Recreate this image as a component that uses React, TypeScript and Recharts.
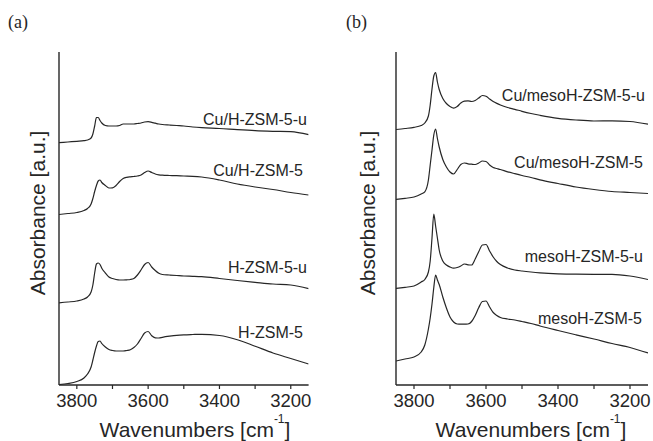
import { LineChart, Line, XAxis, YAxis } from 'recharts';

// wavenumber grid shared by all spectra (cm-1), high to low
const wavenumbers = [
    3850, 3825, 3800, 3780, 3770, 3760, 3755, 3750, 3745, 3740, 3735, 3730, 3720, 3710,
    3700, 3690, 3680, 3670, 3660, 3650, 3640, 3630, 3620, 3610, 3600, 3590, 3580, 3570,
    3560, 3540, 3520, 3500, 3475, 3450, 3400, 3350, 3300, 3250, 3200, 3150,
];

// panel (a), offset absorbance [a.u.]
const cuHZsm5U = [
    2.423, 2.43, 2.437, 2.443, 2.45, 2.47, 2.51, 2.59, 2.675, 2.675, 2.645, 2.62, 2.595, 2.59,
    2.59, 2.59, 2.595, 2.61, 2.61, 2.61, 2.61, 2.615, 2.62, 2.63, 2.633, 2.627, 2.618, 2.61,
    2.605, 2.6, 2.595, 2.59, 2.58, 2.573, 2.565, 2.553, 2.543, 2.537, 2.533, 2.503,
];
const cuHZsm5 = [
    1.705, 1.715, 1.725, 1.745, 1.765, 1.81, 1.865, 1.935, 1.995, 2.04, 2.05, 2.025, 1.995, 1.97,
    1.972, 1.995, 2.035, 2.065, 2.077, 2.082, 2.085, 2.09, 2.1, 2.125, 2.14, 2.125, 2.11, 2.102,
    2.098, 2.095, 2.093, 2.09, 2.087, 2.08, 2.05, 2.01, 1.98, 1.955, 1.925, 1.9,
];
const hZsm5U = [
    0.822, 0.83, 0.84, 0.86, 0.88, 0.93, 1.0, 1.12, 1.21, 1.22, 1.205, 1.167, 1.12, 1.08,
    1.065, 1.055, 1.05, 1.05, 1.052, 1.055, 1.065, 1.1, 1.15, 1.205, 1.225, 1.18, 1.145, 1.117,
    1.105, 1.1, 1.095, 1.09, 1.087, 1.083, 1.065, 1.045, 1.027, 1.01, 1.0, 0.963,
];
const hZsm5 = [
    0.005, 0.015, 0.035, 0.07, 0.11, 0.18, 0.25, 0.325, 0.39, 0.435, 0.44, 0.415, 0.38, 0.355,
    0.345, 0.34, 0.34, 0.34, 0.345, 0.353, 0.375, 0.41, 0.465, 0.52, 0.535, 0.492, 0.472, 0.47,
    0.477, 0.488, 0.497, 0.502, 0.505, 0.507, 0.495, 0.453, 0.388, 0.32, 0.265, 0.21,
];

// panel (b)
const cuMesoU = [
    2.555, 2.565, 2.577, 2.595, 2.62, 2.69, 2.8, 2.96, 3.09, 3.125, 3.03, 2.955, 2.865, 2.815,
    2.785, 2.768, 2.785, 2.82, 2.838, 2.842, 2.835, 2.845, 2.87, 2.895, 2.888, 2.86, 2.835, 2.816,
    2.8, 2.775, 2.757, 2.737, 2.715, 2.697, 2.667, 2.65, 2.64, 2.642, 2.635, 2.608,
];
const cuMeso = [
    1.855, 1.867, 1.88, 1.91, 1.932, 2.05, 2.2, 2.35, 2.5, 2.56, 2.465, 2.38, 2.255, 2.18,
    2.13, 2.11, 2.155, 2.205, 2.22, 2.212, 2.208, 2.205, 2.22, 2.24, 2.235, 2.2, 2.175, 2.165,
    2.155, 2.132, 2.113, 2.095, 2.075, 2.052, 2.015, 1.98, 1.955, 1.935, 1.925, 1.915,
];
const mesoU = [
    0.965, 0.977, 0.99, 1.03, 1.055, 1.13, 1.24, 1.47, 1.71, 1.59, 1.47, 1.35, 1.24, 1.2,
    1.18, 1.168, 1.175, 1.19, 1.21, 1.202, 1.2, 1.26, 1.335, 1.4, 1.405, 1.34, 1.28, 1.235,
    1.205, 1.17, 1.15, 1.14, 1.13, 1.122, 1.112, 1.108, 1.107, 1.107, 1.09, 1.055,
];
const meso = [
    0.24, 0.26, 0.28, 0.33, 0.4, 0.56, 0.67, 0.81, 0.975, 1.1, 1.05, 1.005, 0.88, 0.77,
    0.68, 0.63, 0.61, 0.608, 0.608, 0.61, 0.635, 0.695, 0.775, 0.835, 0.84, 0.78, 0.725, 0.695,
    0.675, 0.66, 0.65, 0.635, 0.615, 0.59, 0.545, 0.502, 0.46, 0.415, 0.375, 0.32,
];

const xTicks = [3800, 3700, 3600, 3500, 3400, 3300, 3200];
const namesA = ['Cu/H-ZSM-5-u', 'Cu/H-ZSM-5', 'H-ZSM-5-u', 'H-ZSM-5'];
const namesB = ['Cu/mesoH-ZSM-5-u', 'Cu/mesoH-ZSM-5', 'mesoH-ZSM-5-u', 'mesoH-ZSM-5'];

const INK = '#262626';
const SANS = '"Liberation Sans", Arial, Helvetica, sans-serif';

const build = (series: number[][]) =>
    wavenumbers.map((wn, i) => {
        const row: Record<string, number> = { wn };
        series.forEach((s, k) => { row[`s${k}`] = s[i]; });
        return row;
    });

const dataA = build([cuHZsm5U, cuHZsm5, hZsm5U, hZsm5]);
const dataB = build([cuMesoU, cuMeso, mesoU, meso]);

function Panel({ data, left, width, margin }: { data: Record<string, number>[]; left: number; width: number; margin: { left: number; right: number } }) {
    return (
        <div style={{ position: 'absolute', left, top: 0 }}>
            <LineChart width={width} height={441} data={data}
                margin={{ top: 52, right: margin.right, left: margin.left, bottom: 0 }}>
                <XAxis dataKey="wn" type="number" domain={[3150, 3850]} reversed allowDataOverflow
                    ticks={xTicks} tickFormatter={(v: number) => (v % 200 === 0 ? String(v) : '')}
                    height={56} tickSize={4} tickMargin={5}
                    axisLine={{ stroke: INK, strokeWidth: 1.4 }} tickLine={{ stroke: INK, strokeWidth: 1.2 }}
                    tick={{ fill: INK, fontSize: 18.5, fontFamily: SANS }} />
                <YAxis type="number" domain={[0, 3.33]} width={1} tick={false} tickLine={false}
                    axisLine={{ stroke: INK, strokeWidth: 1.4 }} allowDataOverflow />
                {[0, 1, 2, 3].map((k) => (
                    <Line key={k} dataKey={`s${k}`} type="monotone" dot={false} stroke={INK}
                        strokeWidth={1.2} isAnimationActive={false} />
                ))}
            </LineChart>
        </div>
    );
}

export default function App() {
    const labelStyle = { fontFamily: SANS, fontSize: 16, fill: INK };
    const titleStyle = { fontFamily: SANS, fontSize: 21, fill: INK };
    return (
        <div style={{ position: 'absolute', left: 0, top: 0, width: 653, height: 441, background: '#fff' }}>
            <Panel data={dataA} left={0} width={330} margin={{ left: 58, right: 21.4 }} />
            <Panel data={dataB} left={330} width={323} margin={{ left: 65, right: 5 }} />
            <svg width={653} height={441} style={{ position: 'absolute', left: 0, top: 0, pointerEvents: 'none' }}>
                <text x={8} y={28} style={{ fontFamily: '"Liberation Serif", "Times New Roman", serif', fontSize: 18, fill: INK }}>(a)</text>
                <text x={346} y={28} style={{ fontFamily: '"Liberation Serif", "Times New Roman", serif', fontSize: 18, fill: INK }}>(b)</text>

                <text x={307} y={125} textAnchor="end" style={labelStyle}>{namesA[0]}</text>
                <text x={303} y={176} textAnchor="end" style={labelStyle}>{namesA[1]}</text>
                <text x={307} y={273} textAnchor="end" style={labelStyle}>{namesA[2]}</text>
                <text x={303} y={338} textAnchor="end" style={labelStyle}>{namesA[3]}</text>

                <text x={645} y={101} textAnchor="end" style={labelStyle}>{namesB[0]}</text>
                <text x={643} y={168} textAnchor="end" style={labelStyle}>{namesB[1]}</text>
                <text x={643} y={262} textAnchor="end" style={labelStyle}>{namesB[2]}</text>
                <text x={642} y={324} textAnchor="end" style={labelStyle}>{namesB[3]}</text>

                <text transform="translate(45,213) rotate(-90)" textAnchor="middle" style={titleStyle}>Absorbance [a.u.]</text>
                <text transform="translate(375,213) rotate(-90)" textAnchor="middle" style={titleStyle}>Absorbance [a.u.]</text>

                <text x={195} y={437} textAnchor="middle" style={titleStyle}>
                    Wavenumbers [cm<tspan dy={-14} fontSize={12}>-1</tspan><tspan dy={14}>]</tspan>
                </text>
                <text x={531} y={437} textAnchor="middle" style={titleStyle}>
                    Wavenumbers [cm<tspan dy={-14} fontSize={12}>-1</tspan><tspan dy={14}>]</tspan>
                </text>
            </svg>
        </div>
    );
}
